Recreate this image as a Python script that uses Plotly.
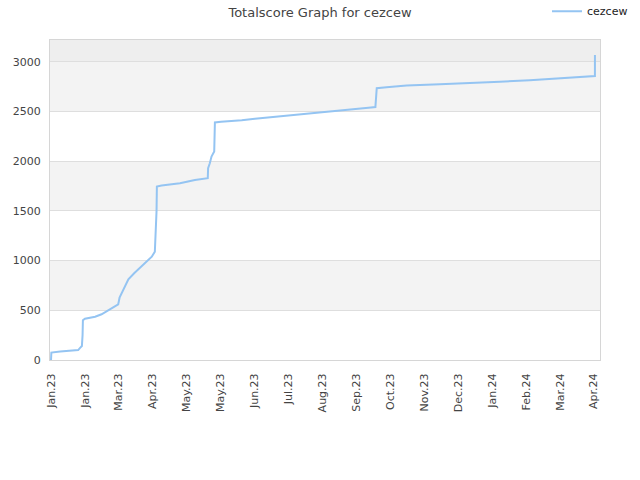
import plotly.graph_objects as go

# x positions in units of tick intervals (0 = first tick), y = total score
x_pos = [0.00, 0.01, 0.27, 0.56, 0.80, 0.85, 0.91, 0.93, 0.94, 1.00, 1.30, 1.49, 1.64,
         1.80, 1.98, 2.02, 2.13, 2.28, 2.45, 2.67, 2.97, 3.06, 3.08, 3.11, 3.12, 3.26,
         3.80, 4.24, 4.62, 4.63, 4.68, 4.73, 4.81, 4.83, 5.01, 5.32, 5.62, 6.01, 6.75,
         7.48, 8.22, 8.96, 9.43, 9.56, 9.58, 9.60, 9.89, 10.48, 11.46, 12.35, 13.23,
         14.11, 15.19, 15.76, 16.03, 16.031]
scores = [0, 75, 85, 93, 100, 120, 140, 250, 400, 415, 435, 460, 493,
          525, 560, 627, 705, 812, 873, 940, 1040, 1090, 1208, 1500, 1745, 1755,
          1779, 1812, 1829, 1930, 1980, 2047, 2097, 2390, 2397, 2403, 2413, 2427, 2450,
          2475, 2495, 2520, 2540, 2545, 2640, 2735, 2745, 2762, 2775, 2785, 2800,
          2815, 2836, 2852, 2858, 3070]

tick_labels = ["Jan.23", "Jan.23", "Mar.23", "Apr.23", "May.23", "May.23", "Jun.23",
               "Jul.23", "Aug.23", "Sep.23", "Oct.23", "Nov.23", "Dec.23", "Jan.24",
               "Feb.24", "Mar.24", "Apr.24"]
y_ticks = [0, 500, 1000, 1500, 2000, 2500, 3000]

fig = go.Figure()
fig.add_trace(go.Scatter(x=x_pos, y=scores, mode="lines", name="cezcew",
                         line=dict(color="#94c4f2", width=2)))

shapes = []
shade = [("#f3f3f3", 500, 1000), ("#f3f3f3", 1500, 2000), ("#f3f3f3", 2500, 3000),
         ("#eeeeee", 3000, 3220)]
for col, y0, y1 in shade:
    shapes.append(dict(type="rect", xref="paper", yref="y", x0=0, x1=1, y0=y0, y1=y1,
                       fillcolor=col, line=dict(width=0), layer="below"))

fig.update_layout(
    width=640, height=480,
    margin=dict(l=50, r=40, t=40, b=120, autoexpand=False),
    paper_bgcolor="white", plot_bgcolor="white",
    font=dict(family="DejaVu Sans, Verdana, sans-serif", size=11, color="#444444"),
    title=dict(text="Totalscore Graph for cezcew", x=0.5, xanchor="center",
               y=0.975, yanchor="middle", font=dict(size=13, color="#444444")),
    showlegend=True,
    legend=dict(x=1.06, xanchor="right", y=1.09, yanchor="middle",
                itemwidth=30, font=dict(size=11, color="#222222"),
                bgcolor="rgba(0,0,0,0)"),
    shapes=shapes,
)
fig.update_xaxes(range=[-0.03, 16.18], tickmode="array",
                 tickvals=list(range(len(tick_labels))), ticktext=tick_labels,
                 tickangle=-90, showgrid=False, zeroline=False,
                 showline=True, linecolor="#d6d6d6", linewidth=1, mirror=True,
                 ticks="", ticklabelstandoff=8, tickfont=dict(size=11, color="#444444"))
fig.update_yaxes(range=[0, 3220], tickvals=y_ticks, showgrid=True,
                 gridcolor="#dedede", gridwidth=1, zeroline=False,
                 showline=True, linecolor="#d6d6d6", linewidth=1, mirror=True,
                 ticks="", ticklabelstandoff=6, tickfont=dict(size=11, color="#444444"))

fig.write_html("out.html")
